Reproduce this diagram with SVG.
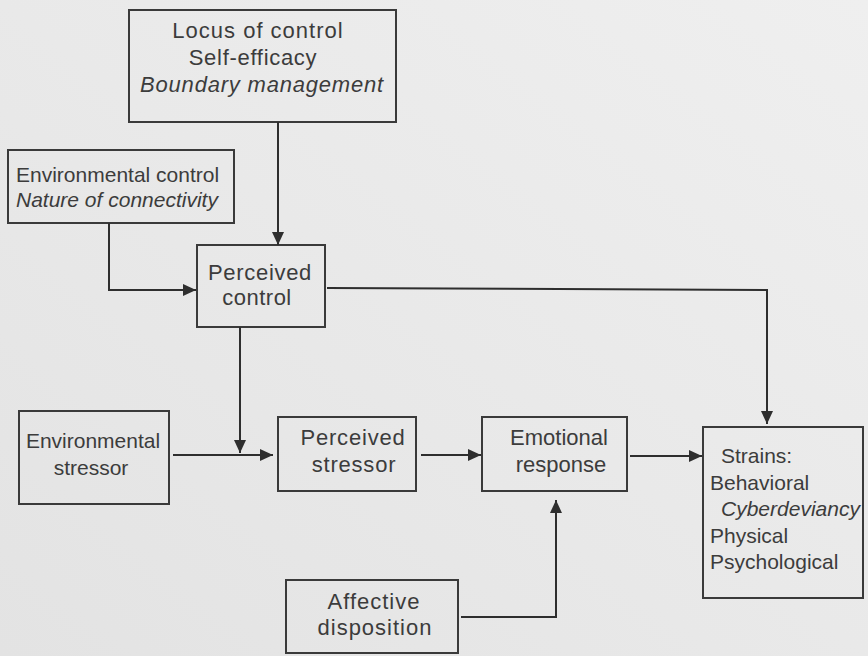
<svg xmlns="http://www.w3.org/2000/svg" width="868" height="656" viewBox="0 0 868 656">
  <defs>
    <linearGradient id="bg" x1="1" y1="0" x2="0" y2="1">
      <stop offset="0" stop-color="#efefef"/>
      <stop offset="1" stop-color="#e3e3e3"/>
    </linearGradient>
    <marker id="arr" viewBox="0 0 13 12" refX="13" refY="6" markerWidth="13" markerHeight="12" markerUnits="userSpaceOnUse" orient="auto">
      <path d="M0,0 L13,6 L0,12 Z" fill="#2e2e2e"/>
    </marker>
  </defs>
  <style>
    .box { fill: none; stroke: #3a3a3a; stroke-width: 2; }
    .t { font-family: "Liberation Sans", Arial, Helvetica, sans-serif; fill: #3c3c3c; font-size: 22px; }
    .c { text-anchor: middle; }
    .i { font-style: italic; }
    .s21 { font-size: 21px; }
    .conn path { fill: none; stroke: #2e2e2e; stroke-width: 2; marker-end: url(#arr); }
    .conn path.plain { marker-end: none; }
  </style>
  <rect x="0" y="0" width="868" height="656" fill="url(#bg)"/>

  <g id="locus">
    <rect class="box" x="129" y="10" width="267" height="112"/>
    <text class="t c" x="258" y="38" letter-spacing="1">Locus of control</text>
    <text class="t c" x="253" y="65" letter-spacing="0.7">Self-efficacy</text>
    <text class="t c i" x="262" y="92" letter-spacing="0.8">Boundary management</text>
  </g>

  <g id="env-control">
    <rect class="box" x="8" y="150" width="226" height="73"/>
    <text class="t s21" x="16" y="182">Environmental control</text>
    <text class="t s21 i" x="16" y="207">Nature of connectivity</text>
  </g>

  <g id="perceived-control">
    <rect class="box" x="197" y="245" width="128" height="82"/>
    <text class="t c" x="260" y="280" letter-spacing="0.7">Perceived</text>
    <text class="t c" x="257" y="305" letter-spacing="0.5">control</text>
  </g>

  <g id="env-stressor">
    <rect class="box" x="19" y="411" width="150" height="93"/>
    <text class="t c s21" x="93" y="448">Environmental</text>
    <text class="t c s21" x="91" y="475">stressor</text>
  </g>

  <g id="perceived-stressor">
    <rect class="box" x="278" y="417" width="138" height="74"/>
    <text class="t c" x="353" y="445" letter-spacing="0.8">Perceived</text>
    <text class="t c" x="354" y="472" letter-spacing="0.8">stressor</text>
  </g>

  <g id="emotional-response">
    <rect class="box" x="482" y="417" width="145" height="74"/>
    <text class="t c" x="559" y="445">Emotional</text>
    <text class="t c" x="561" y="472">response</text>
  </g>

  <g id="affective-disposition">
    <rect class="box" x="286" y="580" width="172" height="73"/>
    <text class="t c" x="374" y="609" letter-spacing="1">Affective</text>
    <text class="t c" x="375" y="635" letter-spacing="1">disposition</text>
  </g>

  <g id="strains">
    <rect class="box" x="703" y="427" width="160" height="171"/>
    <text class="t s21" x="721" y="463">Strains:</text>
    <text class="t s21" x="710" y="490">Behavioral</text>
    <text class="t s21 i" x="721" y="516">Cyberdeviancy</text>
    <text class="t s21" x="710" y="543">Physical</text>
    <text class="t s21" x="710" y="569">Psychological</text>
  </g>

  <g id="connectors" class="conn">
    <path d="M278,122 L278,245"/>
    <path d="M109,223 L109,290 L196,290"/>
    <path d="M327,288 L767,290 L767,424"/>
    <path d="M240,327 L240,453"/>
    <path d="M173,455 L273,455"/>
    <path d="M421,455 L481,455"/>
    <path d="M630,456 L702,456"/>
    <path d="M461,617 L556,617 L556,500"/>
  </g>
</svg>
